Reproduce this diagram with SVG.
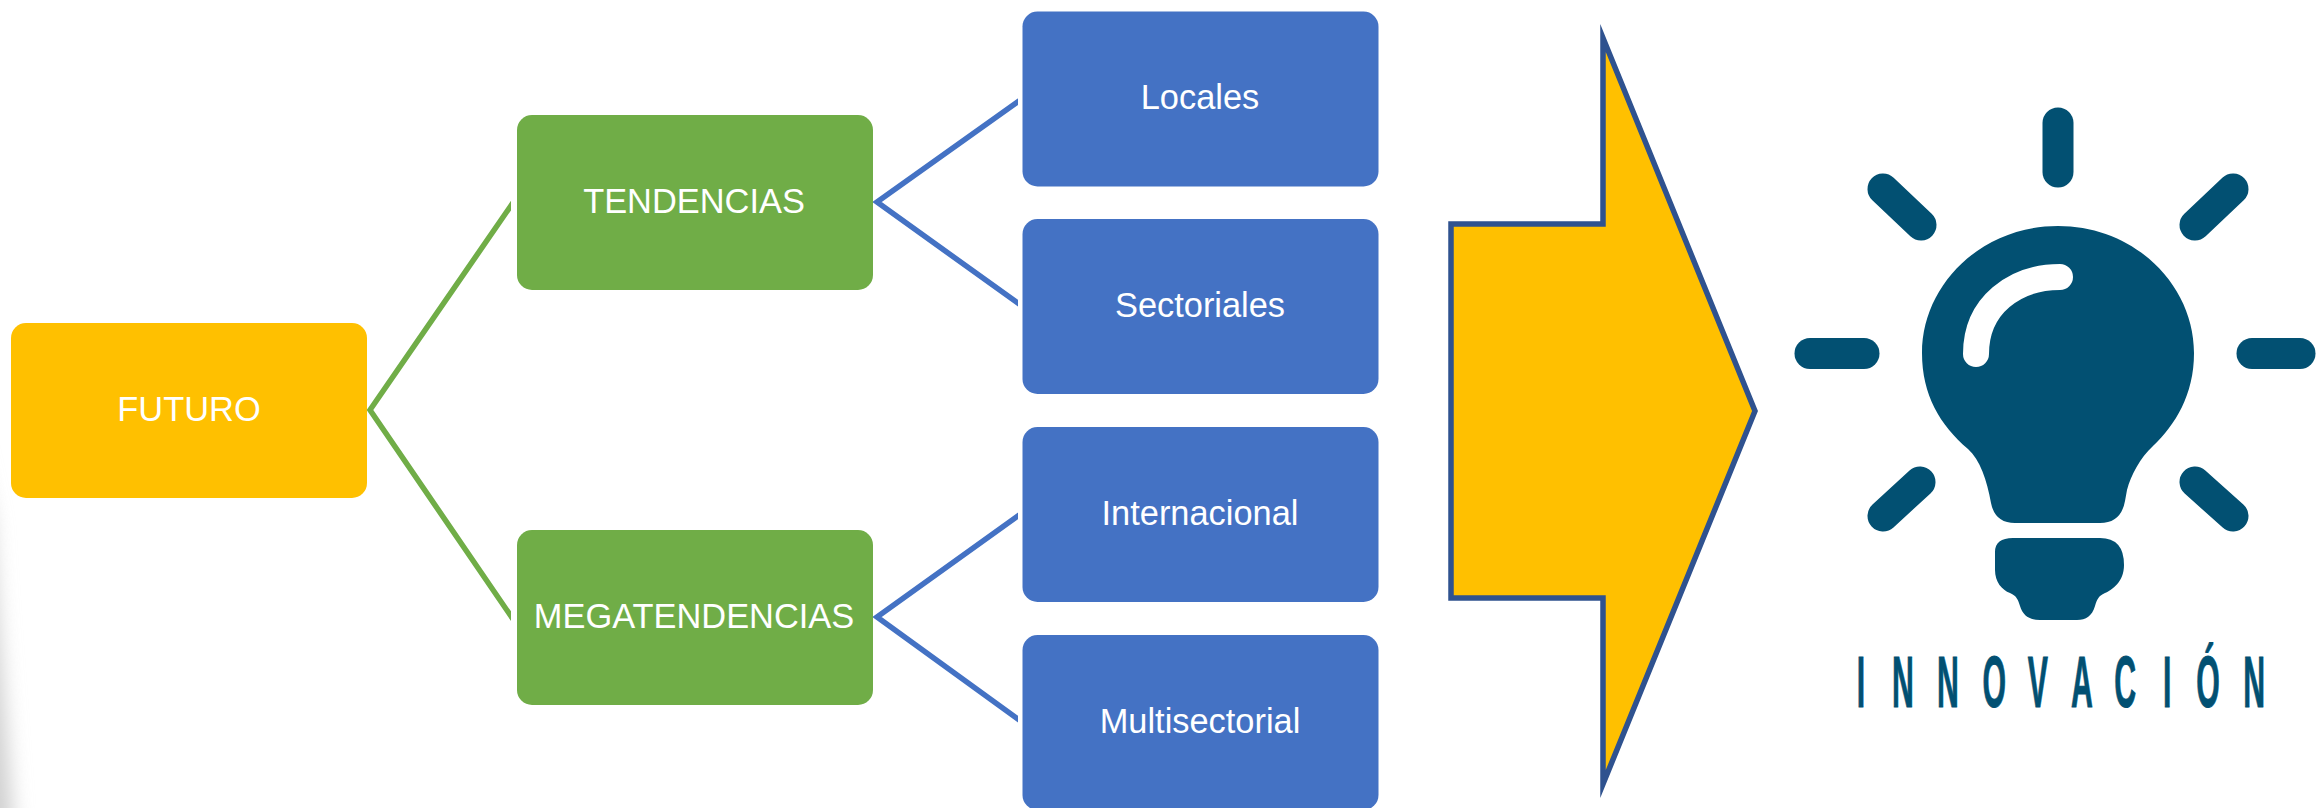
<svg xmlns="http://www.w3.org/2000/svg" width="2316" height="808" viewBox="0 0 2316 808">
<style>
.lbl{font-family:"Liberation Sans",Arial,sans-serif;font-size:34.400px;fill:#fff;text-anchor:middle}
.y{fill:#FFC000}.g{fill:#70AD47}.b{fill:#4472C4}
.cg{stroke:#70AD47;stroke-width:5.500;fill:none}
.cb{stroke:#4472C4;stroke-width:5.500;fill:none}
.ray{stroke:#025072;stroke-width:31;stroke-linecap:round;fill:none}
.bulb{fill:#025072}
.word{font-family:"Liberation Sans",Arial,sans-serif;font-weight:700;font-size:72px;fill:#025072;stroke:#025072;stroke-width:1;text-anchor:middle}
</style>
<defs>
<filter id="soft" x="-100%" y="-20%" width="300%" height="140%"><feGaussianBlur stdDeviation="10"/></filter>
<clipPath id="cutG"><rect x="360" y="0" width="151" height="808"/></clipPath>
<clipPath id="cutB"><rect x="870" y="0" width="148" height="808"/></clipPath>
</defs>
<rect width="2316" height="808" fill="#fff"/>
<path d="M-30 420L-8 520L0 640L14 830L-30 830Z" fill="#d0d0d0" filter="url(#soft)"/>
<g id="connectors">
<g clip-path="url(#cutG)">
<path class="cg" d="M530 178L370 410L530 644"/>
</g>
<g clip-path="url(#cutB)">
<path class="cb" d="M1040 86L877 202L1040 319"/>
<path class="cb" d="M1040 500L877 617L1040 735"/>
</g>
</g>
<g id="futuro"><rect class="y" x="11" y="323" width="356" height="175" rx="15"/><text class="lbl" x="189" y="421">FUTURO</text></g>
<g id="tendencias"><rect class="g" x="517" y="115" width="356" height="175" rx="15"/><text class="lbl" x="694" y="213">TENDENCIAS</text></g>
<g id="megatendencias"><rect class="g" x="517" y="530" width="356" height="175" rx="15"/><text class="lbl" x="694" y="628">MEGATENDENCIAS</text></g>
<g id="locales"><rect class="b" x="1022.500" y="11.500" width="356" height="175" rx="15"/><text class="lbl" x="1200" y="109">Locales</text></g>
<g id="sectoriales"><rect class="b" x="1022.500" y="219" width="356" height="175" rx="15"/><text class="lbl" x="1200" y="317">Sectoriales</text></g>
<g id="internacional"><rect class="b" x="1022.500" y="427" width="356" height="175" rx="15"/><text class="lbl" x="1200" y="525">Internacional</text></g>
<g id="multisectorial"><rect class="b" x="1022.500" y="635" width="356" height="175" rx="15"/><text class="lbl" x="1200" y="733">Multisectorial</text></g>
<g id="arrow"><path d="M1451 224H1603V38L1755 411L1603 784V598H1451Z" fill="#FFC000" stroke="#2F528F" stroke-width="5.500" stroke-miterlimit="10"/></g>
<g id="innovacion">
<path class="ray" d="M2058 123V172"/>
<path class="ray" d="M1883 189L1921 225"/>
<path class="ray" d="M2233 189L2195 225"/>
<path class="ray" d="M1810 353.500H1864"/>
<path class="ray" d="M2252 353.500H2300"/>
<path class="ray" d="M1883 516L1920 482"/>
<path class="ray" d="M2233 516L2195 482"/>
<path class="bulb" d="M2058 226C2135 226 2194 285 2194 353C2194 395 2175 425 2153 446C2140 458 2131 475 2127 490L2125 501Q2121 523 2100 523L2015 523Q1995 523 1991 503C1987 480 1980 460 1968 449C1940 425 1922 395 1922 353C1922 285 1981 226 2058 226Z"/>
<path d="M1976 354C1976 305 2015 277 2060 277" fill="none" stroke="#fff" stroke-width="26" stroke-linecap="round"/>
<path class="bulb" d="M2013 538L2100 538Q2124 538 2124 565C2124 582 2112 590 2105 593C2098 596 2097 600 2095 606C2092 616 2086 620 2077 620L2040 620C2030 620 2023 616 2020 606C2018 600 2017 596 2010 593C2002 590 1995 582 1995 570L1995 552Q1995 538 2013 538Z"/>
<g transform="translate(0 707) scale(0.42 1)"><text class="word" y="0" x="4431 4531 4638 4748 4852 4957 5060 5160 5257 5367">INNOVACIÓN</text></g>
</g>
</svg>
